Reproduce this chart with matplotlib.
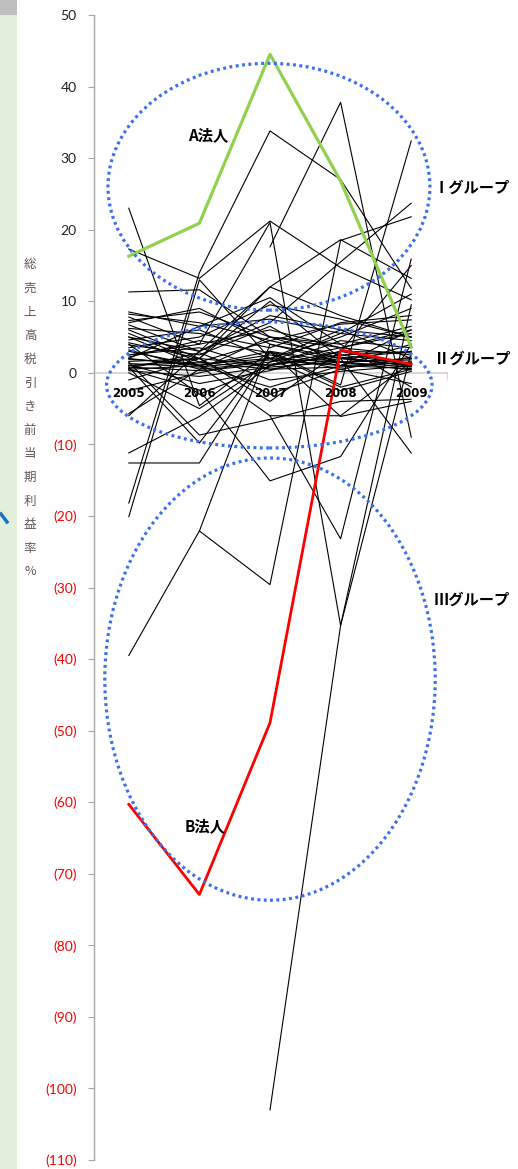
import numpy as np
import matplotlib
matplotlib.use("Agg")
import matplotlib.pyplot as plt
from matplotlib.patches import Ellipse, Rectangle
from matplotlib.lines import Line2D

nan = np.nan
years = ["2005", "2006", "2007", "2008", "2009"]
yticks = list(range(-110, 51, 10))

company_a = [16.3, 20.9, 44.5, 26.8, 3.6]
company_b = [-60.3, -72.9, -48.9, 3.2, 1.2]

outliers = [
    [23.0, -4.6, 3.0, 1.5, 2.0],
    [17.3, 13.2, 21.2, 14.7, 10.2],
    [11.3, 11.6, 5.0, 3.5, 6.0],
    [-18.2, 14.0, 33.8, 27.0, 11.8],
    [nan, nan, 17.6, 37.8, -9.0],
    [2.0, 1.0, 3.0, -1.7, 32.4],
    [5.0, 3.0, 7.0, 15.5, 23.7],
    [1.0, 2.0, 12.0, 18.6, 13.2],
    [-12.6, -12.6, 2.9, 1.0, 1.5],
    [-39.5, -22.1, -29.6, 18.5, 21.8],
    [nan, -22.1, 4.0, 1.5, 0.8],
    [nan, nan, -103.0, -35.3, 2.8],
    [2.5, 4.0, 21.0, -35.3, 9.5],
    [3.0, 1.0, -6.0, -23.2, 15.9],
    [0.5, -2.4, -15.1, -11.7, 4.0],
    [-5.7, 0.5, 5.0, 2.0, 3.0],
    [-11.2, -6.1, 1.0, 3.0, 1.0],
    [-20.1, 13.0, 2.0, 6.0, 5.0],
    [nan, nan, -6.0, -6.0, 1.5],
    [1.5, -8.7, -6.5, -4.0, -3.7],
    [0.8, -9.8, 3.0, -6.1, -4.0],
    [4.2, 2.0, 10.0, 2.0, -11.2],
    [-6.0, 3.0, 12.0, 8.0, 5.0],
    [6.0, 2.0, -4.0, 3.0, 15.0],
]

band = [
    [8.5, 6.5, 7.5, 5.5, 4.5],
    [8.2, 7.0, 4.5, 6.8, 7.4],
    [7.8, 4.0, 6.0, 3.5, 5.5],
    [7.3, 8.5, 5.0, 4.0, 6.5],
    [6.7, 3.0, 8.0, 6.0, 2.0],
    [6.2, 5.5, 3.5, 7.0, 8.0],
    [5.5, 1.5, 4.5, 2.5, 3.0],
    [4.6, 6.0, 2.0, 5.0, 9.0],
    [3.9, 2.5, 6.5, 1.0, 4.0],
    [3.2, 0.5, 1.5, 3.5, 2.5],
    [2.5, 3.5, 0.5, 2.0, 1.0],
    [1.9, 1.2, 2.0, 1.5, 1.8],
    [1.6, 2.0, 1.0, 2.5, 1.2],
    [1.3, 0.8, 1.8, 1.0, 0.6],
    [1.0, 1.5, 0.5, 0.8, 1.5],
    [0.8, 0.3, 1.2, 2.2, 0.9],
    [0.5, 1.0, 2.5, 0.5, 2.2],
    [0.3, -0.5, 0.8, 1.5, 0.4],
    [0.6, 2.8, -1.0, 0.2, 1.0],
    [1.1, -1.5, 0.3, 3.0, 2.8],
    [2.2, 4.5, 2.8, -2.0, 0.5],
    [4.0, -3.0, 1.0, 4.5, 3.5],
    [-1.0, 2.0, -3.0, 0.5, -1.5],
    [-2.5, 0.0, 2.0, -2.5, 0.2],
    [5.0, 1.0, -2.0, 1.0, 6.0],
    [7.0, 9.0, 4.0, 2.0, 1.0],
    [3.5, 5.0, 9.5, 7.5, 5.0],
    [0.0, -5.0, 1.5, 5.5, 11.0],
    [2.0, 6.5, 10.5, 4.0, -2.0],
]

W, H = 518, 1169
fig = plt.figure(figsize=(W / 100, H / 100), dpi=100)

# left decorative strip
fig.patches.append(Rectangle((0, 0), 17 / W, 1, transform=fig.transFigure,
                             facecolor="#E2EFDA", edgecolor="none", zorder=0))
fig.patches.append(Rectangle((0, 1 - 15 / H), 17 / W, 15 / H, transform=fig.transFigure,
                             facecolor="#BFBFBF", edgecolor="none", zorder=1))
fig.lines.append(Line2D([1 / W, 7 / W], [1 - 514 / H, 1 - 522 / H], transform=fig.transFigure,
                        color="#1F6FC5", lw=2.5))

ax = fig.add_axes([93.5 / W, 9 / H, (446.5 - 93.5) / W, (1160 - 15) / H])
x = np.arange(len(years))

for s in band + outliers:
    ax.plot(x, s, color="black", lw=0.8, zorder=3)
ax.plot(x, company_a, color="#92D050", lw=2.3, zorder=4)
ax.plot(x, company_b, color="#FF0000", lw=2.0, zorder=4)

ax.set_xlim(-0.5, 4.5)
ax.set_ylim(-110, 50)

# axes styling
for sp in ["top", "right"]:
    ax.spines[sp].set_visible(False)
ax.spines["left"].set_color("#A6A6A6")
ax.spines["left"].set_linewidth(1.0)
ax.spines["bottom"].set_position(("data", 0))
ax.spines["bottom"].set_color("#D9D9D9")
ax.spines["bottom"].set_linewidth(1.5)
ax.spines["bottom"].set_zorder(2)

ax.set_yticks(yticks)
ylabels = [f"({-v})" if v < 0 else f"{v}" for v in yticks]
ax.set_yticklabels(ylabels, fontfamily="Lato", fontsize=10)
for lab, v in zip(ax.get_yticklabels(), yticks):
    lab.set_color("#FF0000" if v < 0 else "#222222")
ax.tick_params(axis="y", direction="out", length=4, color="#A6A6A6", pad=8)

ax.set_xticks(np.arange(-0.5, 5, 1.0))
ax.set_xticklabels([])
ax.tick_params(axis="x", direction="out", length=5, color="#D9D9D9")
for i, yr in enumerate(years):
    ax.text(i, -2.9, yr, ha="center", va="center", fontsize=8.5,
            fontweight="bold", fontfamily="DejaVu Sans", zorder=5)

# group ellipses
ell_style = dict(fill=False, edgecolor="#3A6FF0", lw=2.3, linestyle=(0, (0.9, 1.1)),
                 zorder=6)
ax.add_patch(Ellipse((1.985, 26.0), 4.56, 34.5, **ell_style))
ax.add_patch(Ellipse((1.99, -1.7), 4.61, 17.6, **ell_style))
ax.add_patch(Ellipse((2.0, -42.8), 4.68, 61.8, clip_on=False, **ell_style))

jp = ["Noto Sans CJK JP", "DejaVu Sans"]
ax.text(1.13, 33.2, "A法人", ha="center", va="center", fontsize=11,
        fontweight="bold", family=jp, zorder=7)
ax.text(1.08, -63.4, "B法人", ha="center", va="center", fontsize=11,
        fontweight="bold", family=jp, zorder=7)

for label, ypx in [("Ⅰグループ", 188), ("Ⅱグループ", 359), ("Ⅲグループ", 600)]:
    fig.text(472 / W, 1 - ypx / H, label, ha="center", va="center",
             fontsize=11, family=jp, fontweight="bold")

ychars = "総売上高税引き前当期利益率%"
for k, ch in enumerate(ychars):
    fig.text(30 / W, 1 - (265 + k * 23.6) / H, ch, ha="center", va="center",
             fontsize=9, color="#595959", family=jp)

fig.savefig("out.png", dpi=100)
